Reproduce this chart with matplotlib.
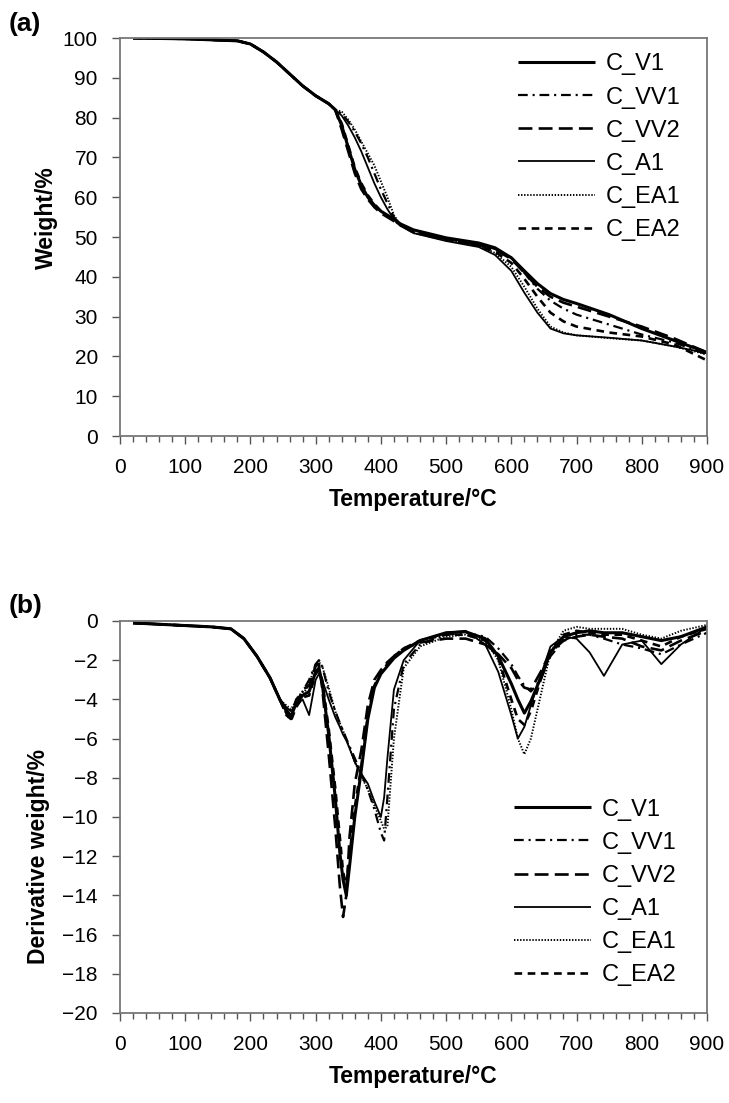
import matplotlib
matplotlib.use("Agg")
import matplotlib.pyplot as plt
from matplotlib.ticker import MultipleLocator

plt.rcParams['font.family'] = ['Liberation Sans', 'DejaVu Sans']
plt.rcParams['lines.scale_dashes'] = False

names = ["C_V1", "C_VV1", "C_VV2", "C_A1", "C_EA1", "C_EA2"]

# ---------- (a) TGA ----------
t_tga = [20, 100, 180, 200, 220, 240, 260, 280, 300, 320, 330, 340, 350, 360, 370,
         380, 390, 400, 410, 420, 430, 450, 500, 550, 575, 600, 620, 640, 660, 680,
         700, 750, 800, 850, 900]
head = [100, 99.8, 99.3, 98.5, 96.5, 94, 91, 88, 85.5, 83.5, 82]
w_v1 = head + [78, 72.5, 67, 63, 60, 58, 56.5, 55.5, 54.5, 53.3, 51.8, 49.8, 48.5, 47.3,
               44.8, 41.5, 38.3, 35.8, 34.3, 33.3, 30.5, 27, 24, 21]
w_vv1 = head + [81, 79, 76.5, 73.5, 70, 66, 62, 58.5, 55, 53, 51.2, 49.5, 48.2, 47,
                44.8, 41, 37, 34, 32, 30.5, 28, 25.5, 23.5, 20.5]
w_vv2 = head + [77, 71.5, 66, 62, 59.5, 57.5, 56, 55, 54, 53, 51.5, 49.5, 48, 46.8,
                44.5, 41, 37.5, 35, 33.5, 32.5, 30, 27.5, 24.5, 21]
w_a1 = head + [80.5, 78, 75, 71.5, 67.5, 63.5, 60, 57, 54.5, 52.8, 51, 49, 47.5, 45.5,
               41.5, 36, 31, 27, 25.8, 25.3, 24.7, 24, 22.5, 20.8]
w_ea1 = head + [81.5, 79.5, 77, 74, 71, 68, 64, 60, 55.5, 53, 51, 49.2, 47.8, 46,
                42.5, 37.5, 32, 27.5, 26, 25.3, 24.6, 24, 22.5, 20.5]
w_ea2 = head + [78.5, 73, 67.5, 63.5, 60.5, 58.3, 56.5, 55.3, 54.2, 53, 51.3, 49.3, 47.8, 46.3,
                43.5, 39.5, 35, 31, 28.8, 27.5, 26, 25, 23, 19]

# ---------- (b) DTG ----------
t_dtg = [20, 80, 140, 170, 190, 210, 230, 245, 255, 262, 270, 280, 290, 300, 305, 310,
         320, 330, 337, 342, 347, 352, 360, 370, 380, 390, 400, 405, 410, 420, 435,
         460, 500, 530, 560, 580, 600, 610, 620, 630, 645, 660, 680, 700, 720, 742,
         770, 800, 830, 860, 900]
dhead = [-0.1, -0.2, -0.3, -0.4, -0.9, -1.8, -2.9, -4.0]
d_v1 = dhead + [-4.6, -4.9, -4.2, -3.8, -3.6, -2.6, -2.4, -3.2, -5.8, -9.0, -11.8, -13.2, -14.0,
                -12.5, -10.0, -7.6, -5.0, -3.4, -2.7, -2.5, -2.3, -1.9, -1.5, -1.0, -0.6,
                -0.55, -0.9, -1.8, -3.2, -4.0, -4.7, -4.1, -2.9, -1.6, -0.8, -0.6, -0.5,
                -0.6, -0.6, -0.8, -1.0, -0.8, -0.3]
d_vv1 = dhead + [-4.5, -4.8, -4.0, -3.6, -3.0, -2.2, -2.0, -2.3, -3.6, -4.6, -5.2, -5.6, -6.0,
                 -6.4, -7.0, -7.8, -8.6, -9.6, -10.8, -11.2, -9.0, -4.5, -2.2, -1.2, -0.7,
                 -0.6, -0.8, -1.4, -2.2, -2.8, -3.3, -3.6, -3.0, -1.8, -1.0, -0.7, -0.7,
                 -0.9, -1.2, -1.4, -1.7, -1.2, -0.6]
d_vv2 = dhead + [-4.8, -5.0, -4.3, -3.5, -3.3, -2.3, -2.2, -3.4, -6.8, -10.5, -13.5, -15.1, -14.0,
                 -11.0, -8.3, -6.6, -4.3, -3.0, -2.5, -2.3, -2.1, -1.8, -1.4, -1.1, -0.9,
                 -0.9, -1.2, -1.7, -2.4, -3.0, -3.4, -3.5, -2.6, -1.6, -1.0, -0.8, -0.7,
                 -0.8, -0.9, -1.3, -1.5, -1.0, -0.5]
d_a1 = dhead + [-4.4, -4.6, -4.3, -4.0, -4.8, -3.0, -2.7, -3.0, -4.0, -4.9, -5.4, -5.8, -6.1,
                -6.5, -7.2, -7.8, -8.3, -9.2, -10.0, -9.0, -7.0, -3.5, -2.0, -1.0, -0.6,
                -0.5, -1.2, -2.6, -4.8, -6.0, -5.4, -4.3, -2.8, -1.3, -0.8, -0.9, -1.6,
                -2.8, -1.2, -1.0, -2.2, -1.2, -0.3]
d_ea1 = dhead + [-4.3, -4.5, -4.1, -3.8, -3.2, -2.2, -2.1, -2.3, -3.4, -4.6, -5.2, -5.6, -6.0,
                 -6.5, -7.2, -7.9, -8.6, -9.4, -10.2, -10.6, -10.5, -6.0, -2.4, -1.3, -0.8,
                 -0.7, -1.0, -2.0, -4.5, -6.0, -6.8, -6.0, -3.8, -1.6, -0.5, -0.3, -0.4,
                 -0.4, -0.4, -0.7, -0.9, -0.5, -0.2]
d_ea2 = dhead + [-4.7, -5.1, -4.4, -3.9, -3.8, -2.7, -2.5, -3.0, -5.5, -8.5, -11.0, -12.8, -13.5,
                 -12.0, -9.5, -7.4, -4.8, -3.3, -2.6, -2.4, -2.2, -1.8, -1.4, -1.0, -0.7,
                 -0.7, -1.0, -1.9, -4.0, -5.0, -5.3, -4.6, -3.0, -1.5, -0.7, -0.5, -0.6,
                 -0.7, -0.7, -1.0, -1.3, -0.8, -0.4]

tga_series = [w_v1, w_vv1, w_vv2, w_a1, w_ea1, w_ea2]
dtg_series = [d_v1, d_vv1, d_vv2, d_a1, d_ea1, d_ea2]

styles = [
    dict(lw=2.2, ls='-'),
    dict(lw=1.6, ls=(0, (7, 3.5, 1.5, 3.5))),
    dict(lw=1.9, ls=(0, (10, 4.5))),
    dict(lw=1.3, ls='-'),
    dict(lw=1.4, ls=(0, (1, 1.2))),
    dict(lw=1.9, ls=(0, (5.5, 4))),
]

fig = plt.figure(figsize=(7.29, 11.03), dpi=100)
ax1 = fig.add_axes([0.1646, 0.6047, 0.8052, 0.3608])
ax2 = fig.add_axes([0.1646, 0.0816, 0.8052, 0.3554])

for ax, xs, series in [(ax1, t_tga, tga_series), (ax2, t_dtg, dtg_series)]:
    for name, ys, st in zip(names, series, styles):
        ax.plot(xs, ys, color='black', label=name, solid_capstyle='butt',
                dash_capstyle='butt', **st)
    ax.set_xlim(0, 900)
    ax.xaxis.set_major_locator(MultipleLocator(100))
    ax.xaxis.set_minor_locator(MultipleLocator(20))
    ax.tick_params(axis='both', which='major', direction='out', length=6, width=1,
                   labelsize=15, color='#555555', pad=10)
    ax.tick_params(axis='x', which='minor', direction='out', length=4, width=1,
                   color='#555555')
    for s in ax.spines.values():
        s.set_color('#777777')
        s.set_linewidth(1.3)
    ax.set_xlabel('Temperature/°C', fontsize=16.5, fontweight='bold', labelpad=8)

ax1.set_ylim(0, 100)
ax1.yaxis.set_major_locator(MultipleLocator(10))
ax1.set_ylabel('Weight/%', fontsize=16.5, fontweight='bold')
ax1.yaxis.set_label_coords(-0.105, 0.55)

ax2.set_ylim(-20, 0)
ax2.set_yticks(range(-20, 1, 2))
ax2.set_yticklabels(['−20', '−18', '−16', '−14', '−12', '−10', '−8', '−6', '−4', '−2', '0'])
ax2.set_ylabel('Derivative weight/%', fontsize=16.5, fontweight='bold')
ax2.yaxis.set_label_coords(-0.12, 0.40)

leg_kw = dict(frameon=False, fontsize=17, handlelength=3.25, handletextpad=0.45,
              labelspacing=0.47, borderaxespad=0, loc='upper left')
ax1.legend(bbox_to_anchor=(0.662, 0.985), **leg_kw)
ax2.legend(bbox_to_anchor=(0.655, 0.571), **leg_kw)

fig.text(0.012, 0.972, '(a)', fontsize=19, fontweight='bold')
fig.text(0.012, 0.444, '(b)', fontsize=19, fontweight='bold')

fig.savefig('out.png', dpi=100)
